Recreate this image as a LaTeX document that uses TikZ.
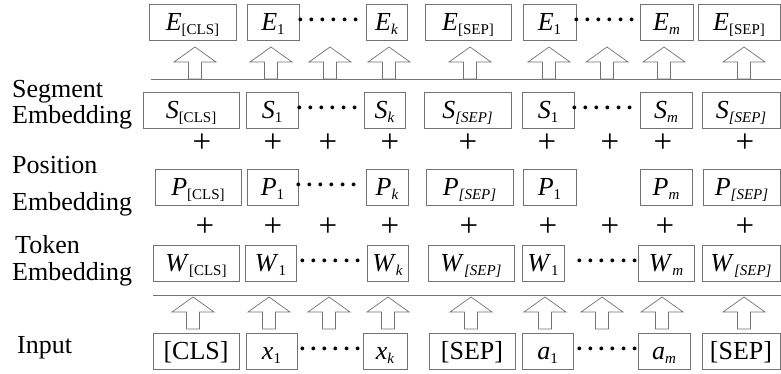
\documentclass[tikz,border=0pt]{standalone}
\usepackage{fontspec}
\setmainfont{Liberation Serif}
\newcommand{\tk}[2]{\textit{#1}\raisebox{-0.35ex}{\fontsize{15}{15}\selectfont #2}}
\newcommand{\sixdots}{\textperiodcentered\kern0.4pt\textperiodcentered\kern0.4pt\textperiodcentered\kern0.4pt\textperiodcentered\kern0.4pt\textperiodcentered\kern0.4pt\textperiodcentered}
\tikzset{
  tokbox/.style={draw=black!55, line width=0.8pt, minimum height=36, inner sep=0pt,
    text height=20pt, text depth=4pt, font=\fontsize{26}{30}\selectfont},
  rowlabel/.style={anchor=base west, inner sep=0pt, font=\fontsize{26}{30}\selectfont},
  plussign/.style={inner sep=0pt, font=\fontsize{33}{33}\selectfont},
  dotrow/.style={anchor=base, inner sep=0pt, font=\fontsize{32}{32}\selectfont},
  sepline/.style={draw=black!55, line width=0.8pt},
  uparr/.pic={\draw[draw=black!55, line width=0.7pt, fill=white]
    (-21,15) -- (0,0) -- (21,15) -- (6.5,15) -- (6.5,32) -- (-6.5,32) -- (-6.5,15) -- cycle;}
}

\begin{document}
\begin{tikzpicture}[x=1pt, y=-1pt]
\useasboundingbox (0,0) rectangle (781,374);
% row labels
\node[rowlabel] (segA) at (12,98)  {Segment};
\node[rowlabel] (segB) at (12,124) {Embedding};
\node[rowlabel] (posA) at (12,174) {Position};
\node[rowlabel] (posB) at (12,210) {Embedding};
\node[rowlabel] (tokA) at (15,253) {Token};
\node[rowlabel] (tokB) at (12,280) {Embedding};
\node[rowlabel] (inp)  at (17,353) {Input};
% output embeddings
\node[tokbox, minimum width=87] (eCls)  at (192.5,22.5) {\tk{E}{[CLS]}};
\node[tokbox, minimum width=52] (eA1)   at (273,22.5)   {\tk{E}{1}};
\node[dotrow] (eDotA) at (328,30.5) {\sixdots};
\node[tokbox, minimum width=41] (eAk)   at (386.5,22.5) {\tk{E}{\textit{k}}};
\node[tokbox, minimum width=86] (eSepA) at (468,22.5)   {\tk{E}{[SEP]}};
\node[tokbox, minimum width=53] (eB1)   at (549.5,22.5) {\tk{E}{1}};
\node[dotrow] (eDotB) at (604,30.5) {\sixdots};
\node[tokbox, minimum width=53] (eBm)   at (666.5,22.5) {\tk{E}{\textit{m}}};
\node[tokbox, minimum width=82] (eSepB) at (739,22.5)   {\tk{E}{[SEP]}};
% arrows into the output row
\draw[sepline] (151,79) -- (781,79);
\foreach \ax in {195,271,330,389,470,549,607,664,744}
  \pic at (\ax,47) {uparr};
% segment embeddings
\node[tokbox, minimum width=96] (sCls)  at (191,110.5)   {\tk{S}{[CLS]}};
\node[tokbox, minimum width=52] (sA1)   at (272,110.5)   {\tk{S}{1}};
\node[dotrow] (sDotA) at (327,118.5) {\sixdots};
\node[tokbox, minimum width=41] (sAk)   at (384.5,110.5) {\tk{S}{\textit{k}}};
\node[tokbox, minimum width=87] (sSepA) at (467.5,110.5) {\tk{S}{\textit{[SEP]}}};
\node[tokbox, minimum width=52] (sB1)   at (548,110.5)   {\tk{S}{1}};
\node[dotrow] (sDotB) at (602,118.5) {\sixdots};
\node[tokbox, minimum width=52] (sBm)   at (666,110.5)   {\tk{S}{\textit{m}}};
\node[tokbox, minimum width=78] (sSepB) at (741,110.5)   {\tk{S}{\textit{[SEP]}}};
% first row of plus signs
\foreach \px in {202,273,328,390,468,547,610,663,745}
  \node[plussign] at (\px,143) {+};
% position embeddings
\node[tokbox, minimum width=86] (pCls)  at (198,187)   {\tk{P}{[CLS]}};
\node[tokbox, minimum width=51] (pA1)   at (272.5,187) {\tk{P}{1}};
\node[dotrow] (pDotA) at (326,195) {\sixdots};
\node[tokbox, minimum width=42] (pAk)   at (387,187)   {\tk{P}{\textit{k}}};
\node[tokbox, minimum width=87] (pSepA) at (469.5,187) {\tk{P}{\textit{[SEP]}}};
\node[tokbox, minimum width=53] (pB1)   at (549.5,187) {\tk{P}{1}};
\node[tokbox, minimum width=52] (pBm)   at (666,187)   {\tk{P}{\textit{m}}};
\node[tokbox, minimum width=77] (pSepB) at (741.5,187) {\tk{P}{\textit{[SEP]}}};
% second row of plus signs
\foreach \px in {205,273,328,390,469,548,610,665,745}
  \node[plussign] at (\px,227) {+};
% token embeddings
\node[tokbox, minimum width=86] (wCls)  at (196,263.5)   {\tk{W}{[CLS]}};
\node[tokbox, minimum width=51] (wA1)   at (270.5,263.5) {\tk{W}{1}};
\node[dotrow] (wDotA) at (330,271.5) {\sixdots};
\node[tokbox, minimum width=41] (wAk)   at (387.5,263.5) {\tk{W}{\textit{k}}};
\node[tokbox, minimum width=86] (wSepA) at (471,263.5)   {\tk{W}{\textit{[SEP]}}};
\node[tokbox, minimum width=42] (wB1)   at (543,263.5)   {\tk{W}{1}};
\node[dotrow] (wDotB) at (607,271.5) {\sixdots};
\node[tokbox, minimum width=56] (wBm)   at (666,263.5)   {\tk{W}{\textit{m}}};
\node[tokbox, minimum width=78] (wSepB) at (741,263.5)   {\tk{W}{\textit{[SEP]}}};
% arrows from the input row
\draw[sepline] (153,295) -- (781,295);
\foreach \ax in {193,269,329,388,471,545,602,662,744}
  \pic at (\ax,297) {uparr};
% input tokens
\node[tokbox, minimum width=86] (iCls)  at (196,351.5)   {[CLS]};
\node[tokbox, minimum width=51] (iA1)   at (271.5,351.5) {\tk{x}{1}};
\node[dotrow] (iDotA) at (330,359.5) {\sixdots};
\node[tokbox, minimum width=44] (iAk)   at (385,351.5)   {\tk{x}{\textit{k}}};
\node[tokbox, minimum width=86] (iSepA) at (472,351.5)   {[SEP]};
\node[tokbox, minimum width=51] (iB1)   at (547.5,351.5) {\tk{a}{1}};
\node[dotrow] (iDotB) at (607,359.5) {\sixdots};
\node[tokbox, minimum width=52] (iBm)   at (664,351.5)   {\tk{a}{\textit{m}}};
\node[tokbox, minimum width=78] (iSepB) at (741,351.5)   {[SEP]};
\end{tikzpicture}
\end{document}
